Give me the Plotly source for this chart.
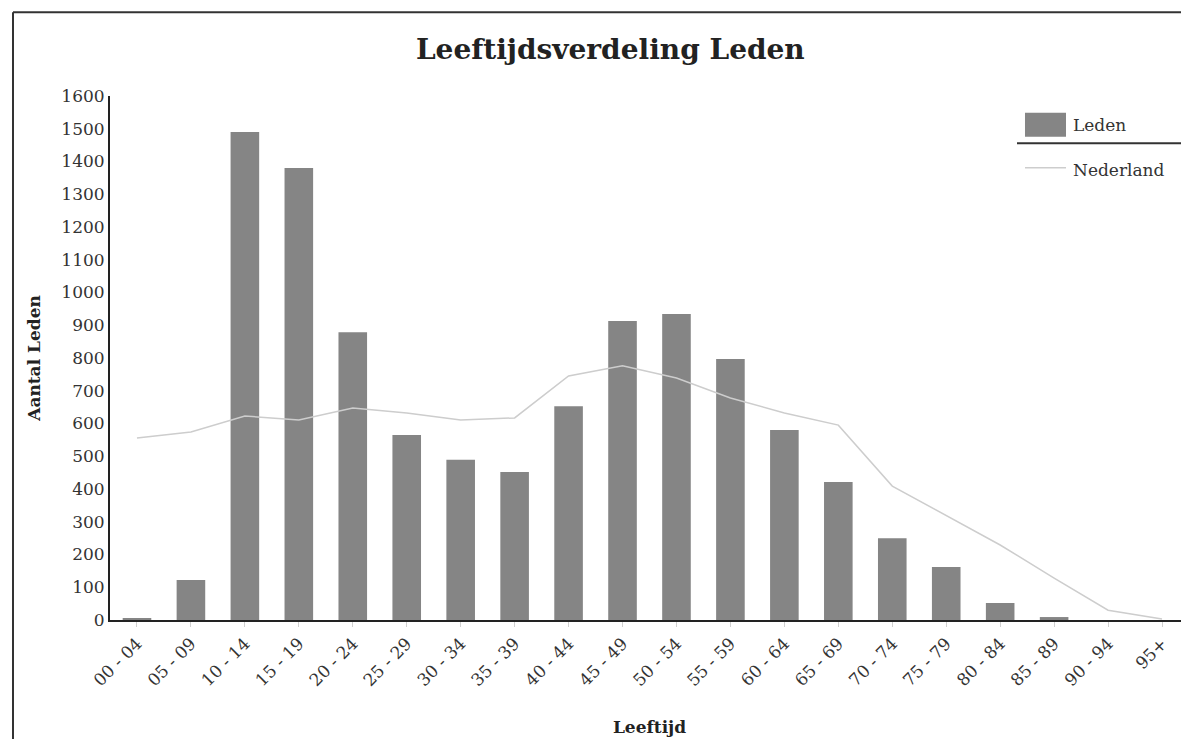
import plotly.graph_objects as go

categories = ["00 - 04", "05 - 09", "10 - 14", "15 - 19", "20 - 24", "25 - 29", "30 - 34",
              "35 - 39", "40 - 44", "45 - 49", "50 - 54", "55 - 59", "60 - 64", "65 - 69",
              "70 - 74", "75 - 79", "80 - 84", "85 - 89", "90 - 94", "95+"]
leden = [5, 122, 1490, 1380, 879, 565, 489, 452, 653, 913, 934, 797, 580, 421, 250, 162, 52, 9, 0, 0]
nederland = [556, 574, 623, 611, 647, 632, 611, 617, 745, 776, 739, 678, 632, 595, 409, 318, 229, 128, 30, 3]
y_ticks = list(range(0, 1601, 100))

FONT = "DejaVu Serif"
BAR_COLOR = "#858585"
LINE_COLOR = "#cdcdcd"

fig = go.Figure()
fig.add_trace(go.Bar(x=categories, y=leden, name="Leden", showlegend=False,
                     marker=dict(color=BAR_COLOR, line=dict(width=0))))
fig.add_trace(go.Scatter(x=categories, y=nederland, name="Nederland", mode="lines",
                         showlegend=False, line=dict(color=LINE_COLOR, width=1.5)))

fig.update_layout(
    width=1181, height=731,
    margin=dict(l=102, r=0, t=88, b=119),
    paper_bgcolor="white", plot_bgcolor="white",
    bargap=0.47,
    font=dict(family=FONT, color="#333333", size=17),
    title=dict(text="<b>Leeftijdsverdeling Leden</b>", x=0.51, xanchor="center",
               y=0.943, yanchor="middle",
               font=dict(family=FONT, size=28, color="#222222")),
    showlegend=False,
    xaxis=dict(type="category", showgrid=False, showline=True, linecolor="#222222",
               linewidth=2, ticks="outside", ticklen=5, tickcolor="#d0d0d0",
               tickangle=-45, tickfont=dict(family=FONT, size=17, color="#333333"),
               title=dict(text="<b>Leeftijd</b>", standoff=32,
                          font=dict(family=FONT, size=17, color="#222222")),
               range=[-0.5, 19.5]),
    yaxis=dict(range=[0, 1600], tickvals=y_ticks, showgrid=False, showline=True,
               linecolor="#222222", linewidth=2, ticks="", zeroline=False,
               tickfont=dict(family=FONT, size=17, color="#333333"),
               title=dict(text="<b>Aantal Leden</b>", standoff=16,
                          font=dict(family=FONT, size=17, color="#222222"))),
)

# outer frame of the scanned image
fig.add_shape(type="line", xref="paper", yref="paper", x0=-0.0899, x1=1.01, y0=1.160, y1=1.160,
              line=dict(color="#333333", width=2))
fig.add_shape(type="line", xref="paper", yref="paper", x0=-0.0899, x1=-0.0899, y0=1.160, y1=-0.23,
              line=dict(color="#333333", width=2))

# hand-drawn legend
fig.add_shape(type="rect", xref="paper", yref="paper", x0=0.848, x1=0.886, y0=0.922, y1=0.968,
              fillcolor=BAR_COLOR, line=dict(width=0))
fig.add_annotation(xref="paper", yref="paper", x=0.891, y=0.945, text="Leden",
                   showarrow=False, xanchor="left", yanchor="middle",
                   font=dict(family=FONT, size=17, color="#333333"))
fig.add_shape(type="line", xref="paper", yref="paper", x0=0.8406, x1=0.9963, y0=0.910, y1=0.910,
              line=dict(color="#333333", width=2))
fig.add_shape(type="line", xref="paper", yref="paper", x0=0.848, x1=0.886, y0=0.863, y1=0.863,
              line=dict(color=LINE_COLOR, width=1.5))
fig.add_annotation(xref="paper", yref="paper", x=0.891, y=0.859, text="Nederland",
                   showarrow=False, xanchor="left", yanchor="middle",
                   font=dict(family=FONT, size=17, color="#333333"))

fig.write_html("out.html")
